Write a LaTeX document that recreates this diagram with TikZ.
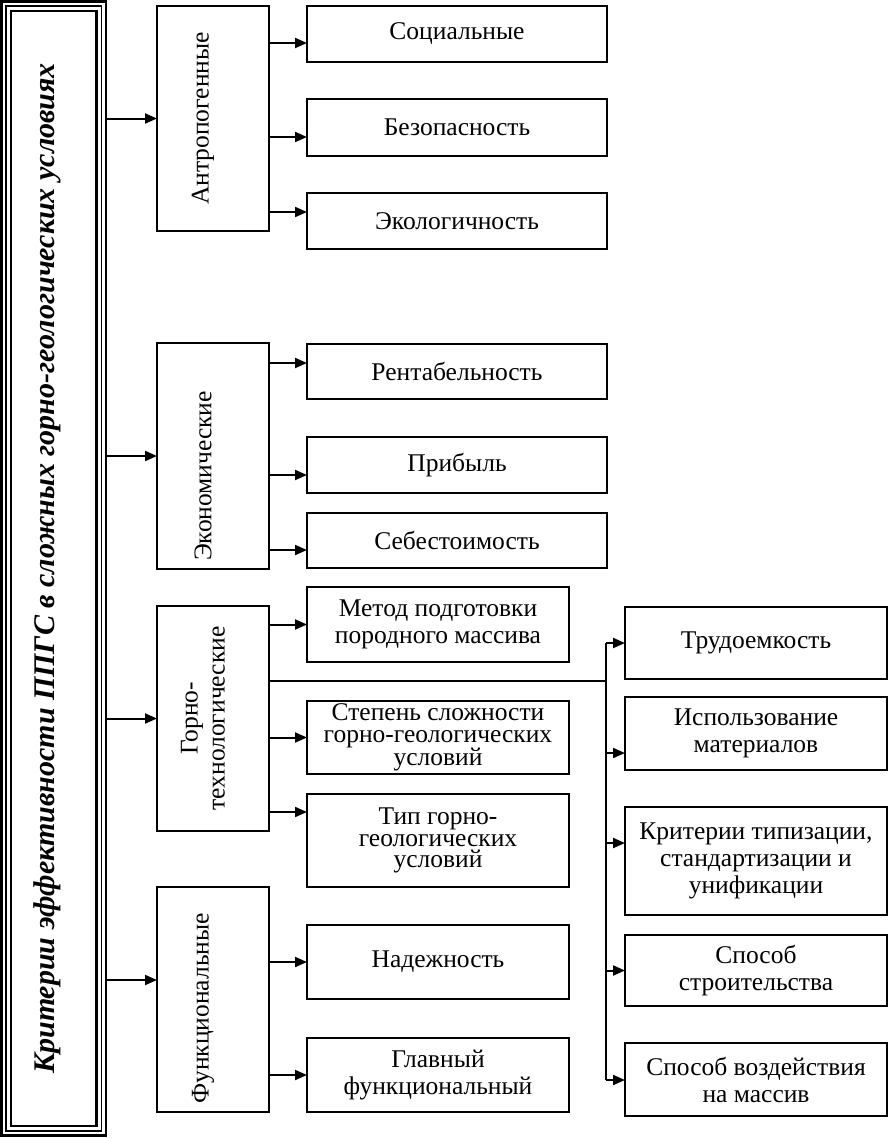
\documentclass[tikz,border=0pt]{standalone}
\usepackage{fontspec}
\setmainfont{Liberation Serif}
\usepackage{graphicx}
\usetikzlibrary{arrows.meta}
\begin{document}
\begin{tikzpicture}[x=1pt,y=-1pt,
  box/.style={draw, line width=1.6pt, inner sep=0pt, outer sep=0pt, align=center,
    font=\fontsize{25.5}{27}\selectfont},
  tight/.style={font=\fontsize{25.5}{21.5}\selectfont},
  catlbl/.style={rotate=90, align=center, inner sep=0pt, font=\fontsize{25.5}{27}\selectfont},
  arr/.style={line width=2pt, -{Triangle[length=12pt,width=10pt]}},
  bus/.style={line width=2pt},
  thinline/.style={line width=1.1pt},
]
\useasboundingbox (0,0) rectangle (889,1138);

% main title box (triple border)
\node[draw, line width=2.6pt, inner sep=0pt, outer sep=0pt, minimum width=104.5pt, minimum height=1134pt] (main) at (53.75,568.5) {};
\draw[line width=1.8pt] ([shift={(4.5pt,-4.5pt)}]main.north west) rectangle ([shift={(-4.5pt,4.5pt)}]main.south east);
\draw[line width=2.8pt] ([shift={(9.5pt,-9.5pt)}]main.north west) rectangle ([shift={(-9.5pt,9.5pt)}]main.south east);
\node[rotate=90, inner sep=0pt, font=\fontsize{30}{32}\selectfont\bfseries\itshape] (title) at ([xshift=-6pt]main.center)
  {Критерии эффективности ППГС в сложных горно-геологических условиях};

% category boxes
\node[box, minimum width=112pt, minimum height=225pt] (ant) at (213,118.5) {};
\node[box, minimum width=112pt, minimum height=226pt] (eko) at (213,456) {};
\node[box, minimum width=112pt, minimum height=225pt] (gor) at (213,718.5) {};
\node[box, minimum width=112pt, minimum height=225pt] (fun) at (213,999.5) {};
\node[catlbl] (antT) at ([xshift=-10pt]ant.center) {Антропогенные};
\node[catlbl] (ekoT) at ([xshift=-10pt,yshift=-20pt]eko.center) {Экономические};
\node[catlbl] (gorT) at ([xshift=-10pt]gor.center) {Горно-\\технологические};
\node[catlbl] (funT) at ([xshift=-10pt,yshift=-9pt]fun.center) {Функциональные};

% item boxes
\node[box, minimum width=300pt, minimum height=56pt] (soc) at (457,34) {Социальные};
\node[box, minimum width=300pt, minimum height=57pt] (bez) at (457,127.5) {Безопасность};
\node[box, minimum width=300pt, minimum height=56pt] (eco) at (457,221) {Экологичность};
\node[box, minimum width=300pt, minimum height=55pt] (ren) at (457,371.5) {Рентабельность};
\node[box, minimum width=300pt, minimum height=56pt] (pri) at (457,465) {Прибыль};
\node[box, minimum width=300pt, minimum height=55pt] (seb) at (457,540.5) {Себестоимость};
\node[box, minimum width=262pt, minimum height=75pt] (met) at (438,624.5) {Метод подготовки\\породного массива};
\node[box, tight, minimum width=262pt, minimum height=73pt] (ste) at (438,737.5) {Степень сложности\\горно-геологических\\условий};
\node[box, tight, minimum width=262pt, minimum height=93pt] (tip) at (438,840.5) {Тип горно-\\геологических\\условий};
\node[box, minimum width=262pt, minimum height=74pt] (nad) at (438,962) {Надежность};
\node[box, minimum width=262pt, minimum height=74pt] (gla) at (438,1075) {Главный\\функциональный};

% right column
\node[box, minimum width=262pt, minimum height=72pt] (tru) at (756,643) {Трудоемкость};
\node[box, minimum width=262pt, minimum height=73pt] (isp) at (756,733.5) {Использование\\материалов};
\node[box, minimum width=262pt, minimum height=108pt] (kri) at (756,861) {Критерии типизации,\\стандартизации и\\унификации};
\node[box, minimum width=262pt, minimum height=71pt] (spo) at (756,970.5) {Способ\\строительства};
\node[box, minimum width=262pt, minimum height=73pt] (voz) at (756,1079.5) {Способ воздействия\\на массив};

% main arrows
\draw[arr] (main.east |- ant.west) -- (ant.west);
\draw[arr] (main.east |- eko.west) -- (eko.west);
\draw[arr] (main.east |- gor.west) -- (gor.west);
\draw[arr] (main.east |- 0,980) -- (fun.west |- 0,980);

% category -> items
\draw[arr] (ant.east |- 0,43) -- (soc.west |- 0,43);
\draw[arr] (ant.east |- 0,137) -- (bez.west |- 0,137);
\draw[arr] (ant.east |- 0,212) -- (eco.west |- 0,212);
\draw[arr] (eko.east |- 0,363) -- (ren.west |- 0,363);
\draw[arr] (eko.east |- 0,475) -- (pri.west |- 0,475);
\draw[arr] (eko.east |- 0,550) -- (seb.west |- 0,550);
\draw[arr] (gor.east |- met.west) -- (met.west);
\draw[arr] (gor.east |- ste.west) -- (ste.west);
\draw[arr] (gor.east |- 0,812) -- (tip.west |- 0,812);
\draw[arr] (fun.east |- nad.west) -- (nad.west);
\draw[arr] (fun.east |- gla.west) -- (gla.west);

% bus to right column
\coordinate (busT) at (606,643);
\coordinate (busB) at (606,1080);
\coordinate (busJ) at (606,681);
\draw[thinline] (gor.east |- busJ) -- (busJ);
\draw[bus] (busT) -- (busB);
\draw[arr] (busT) -- (tru.west);
\draw[arr] (busT |- 0,753) -- (isp.west |- 0,753);
\draw[arr] (busT |- 0,843) -- (kri.west |- 0,843);
\draw[arr] (busT |- spo.west) -- (spo.west);
\draw[arr] (busB) -- (voz.west |- busB);
\end{tikzpicture}
\end{document}
